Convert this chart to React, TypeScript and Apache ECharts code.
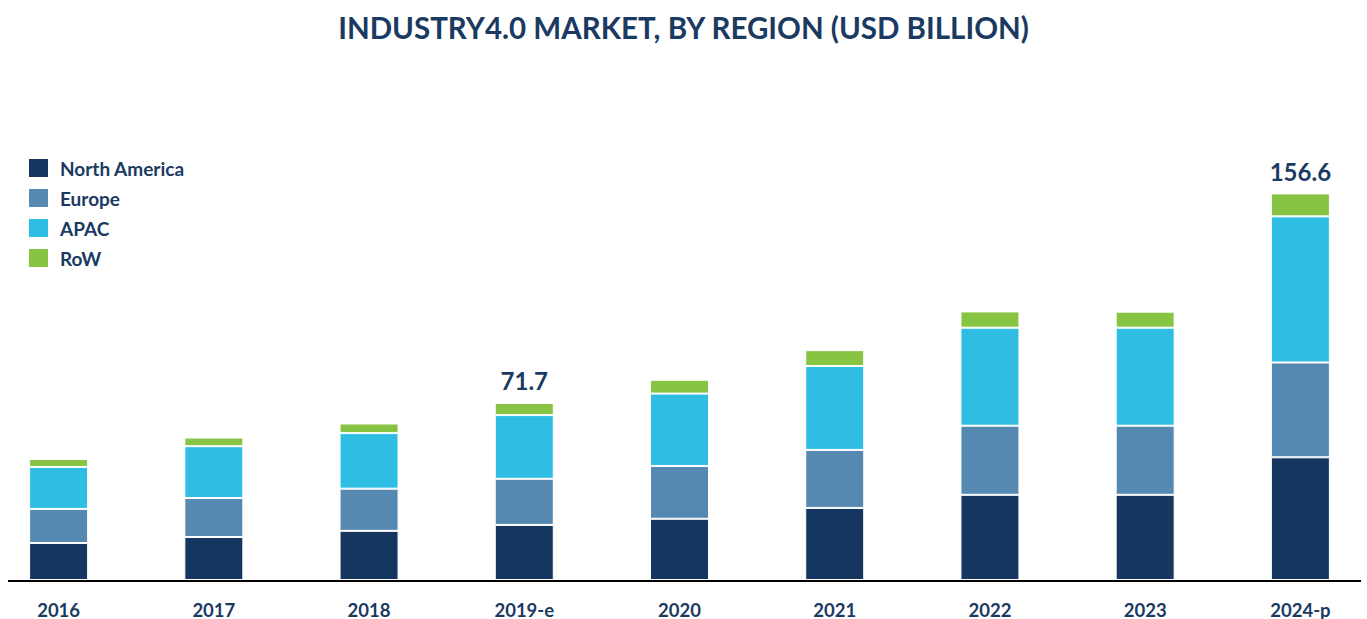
import React, { useEffect, useRef } from "react";
import * as echarts from "echarts";

const categories = ["2016", "2017", "2018", "2019-e", "2020", "2021", "2022", "2023", "2024-p"];
const northAmerica = [15.0, 17.4, 19.9, 22.3, 24.8, 29.2, 34.5, 34.5, 49.7];
const europe = [13.8, 15.8, 17.1, 18.7, 21.4, 23.5, 28.0, 28.0, 38.4];
const apac = [17.0, 21.0, 22.5, 25.8, 29.3, 34.0, 39.7, 39.7, 59.2];
const row = [3.2, 3.5, 3.9, 4.9, 5.6, 6.4, 6.6, 6.5, 9.3];
const labeledYears = ["2019-e", "2024-p"];

const NAVY = "#1B3A62";
const FONT = "Lato, 'Noto Sans', sans-serif";

export default function App() {
  const ref = useRef<HTMLDivElement>(null);
  useEffect(() => {
    document.body.style.margin = "0";
    if (!ref.current) return;
    const chart = echarts.init(ref.current, undefined, { renderer: "svg" });
    const totals = categories.map((_, i) => northAmerica[i] + europe[i] + apac[i] + row[i]);
    const mk = (name: string, data: number[], color: string, top = false) => ({
      name,
      type: "bar",
      stack: "total",
      barWidth: 59,
      data: data.map((v, i) => ({
        value: v,
        label: top && labeledYears.includes(categories[i])
          ? {
              show: true,
              position: "top",
              distance: 10,
              formatter: () => totals[i].toFixed(1),
              color: NAVY,
              fontSize: 24,
              fontWeight: "bold",
              fontFamily: FONT,
            }
          : { show: false },
      })),
      itemStyle: { color, borderColor: "#ffffff", borderWidth: 1 },
    });
    chart.setOption({
      animation: false,
      title: {
        text: "INDUSTRY4.0 MARKET, BY REGION (USD BILLION)",
        left: "center",
        top: 7,
        textStyle: { color: NAVY, fontSize: 29.5, fontWeight: "bold", fontFamily: FONT },
      },
      legend: {
        orient: "vertical",
        left: 27,
        top: 157,
        padding: 0,
        itemWidth: 21,
        itemHeight: 20,
        itemGap: 8,
        icon: "rect",
        textStyle: {
          color: NAVY,
          fontSize: 19,
          lineHeight: 20,
          fontWeight: "bold",
          fontFamily: FONT,
          padding: [0, 0, 0, 6],
        },
        data: ["North America", "Europe", "APAC", "RoW"],
      },
      grid: { left: -19, width: 1397, top: 185, height: 395, outerBoundsMode: "none", containLabel: false },
      xAxis: {
        type: "category",
        data: categories,
        axisLine: { show: false },
        axisTick: { show: false },
        axisLabel: { color: NAVY, fontSize: 18.5, fontWeight: "bold", fontFamily: FONT, margin: 20 },
      },
      yAxis: { type: "value", min: 0, max: 160, show: false, splitLine: { show: false } },
      graphic: [
        {
          type: "line",
          shape: { x1: 8, y1: 581, x2: 1361, y2: 581 },
          style: { stroke: "#000000", lineWidth: 2 },
          z: 10,
        },
      ],
      series: [
        mk("North America", northAmerica, "#15375F"),
        mk("Europe", europe, "#5689B1"),
        mk("APAC", apac, "#2FBDE4"),
        mk("RoW", row, "#88C443", true),
      ],
    });
    return () => chart.dispose();
  }, []);
  return <div ref={ref} style={{ width: 1367, height: 619 }} />;
}
